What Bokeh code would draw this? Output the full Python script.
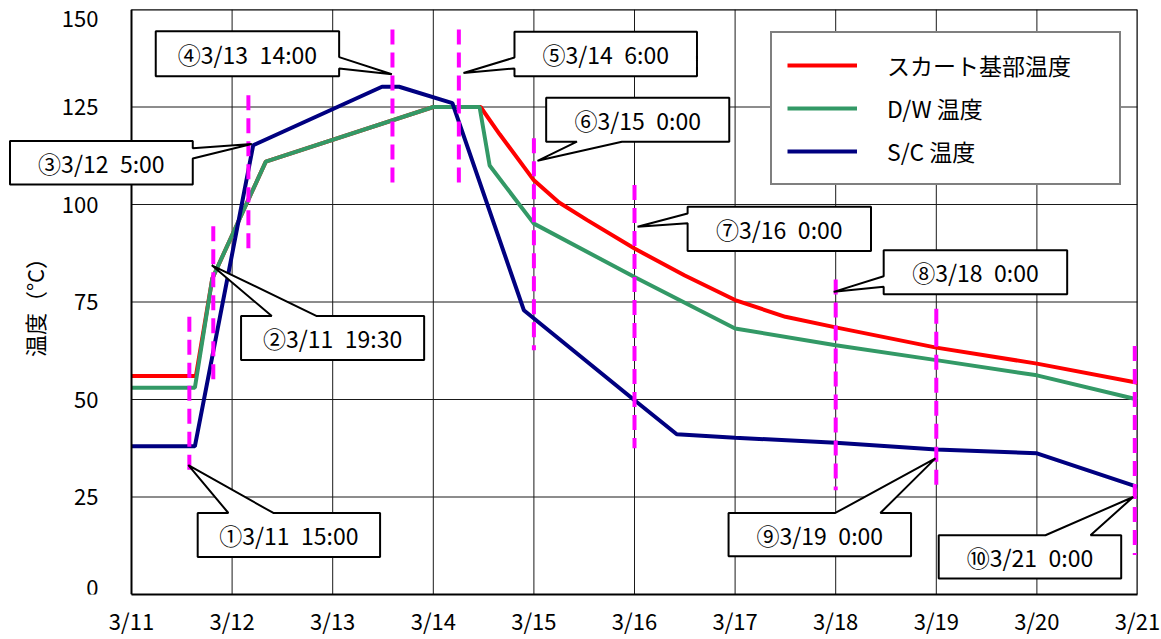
from bokeh.plotting import figure
from bokeh.models import FixedTicker, Legend, LegendItem, PolyAnnotation, Label
from bokeh.embed import file_html
from bokeh.resources import INLINE

FONT = "Noto Sans CJK JP"

# ---------------- data ----------------
x_ticks = [0, 1, 2, 3, 4, 5, 6, 7, 8, 9, 10]
x_tick_labels = ["3/11", "3/12", "3/13", "3/14", "3/15", "3/16", "3/17", "3/18", "3/19", "3/20", "3/21"]
y_ticks = [0, 25, 50, 75, 100, 125, 150]

series_names = ["スカート基部温度", "D/W 温度", "S/C 温度"]

# days since 3/11 0:00
skirt_day = [0, 0.64, 0.803, 1.335, 3.0, 3.47, 3.66, 4.0, 4.25, 4.53, 5.0, 5.5, 6.0, 6.5, 7.0, 8.0, 9.0, 10.0]
skirt_temp = [56, 56, 81, 111, 125, 125, 118, 106.2, 100.5, 96, 88.7, 81.8, 75.5, 71.2, 68.5, 63.3, 59.2, 54.3]

dw_day = [0, 0.63, 0.803, 1.335, 3.0, 3.46, 3.56, 4.0, 5.0, 6.0, 7.0, 8.0, 9.0, 10.0]
dw_temp = [53, 53, 81, 111, 125, 125, 110, 95.1, 81.4, 68.2, 63.9, 60.1, 56.2, 50]

sc_day = [0, 0.63, 1.21, 2.49, 2.66, 3.19, 3.9, 5.0, 5.42, 6.0, 7.0, 8.0, 9.0, 10.0]
sc_temp = [38, 38, 115.2, 130.2, 130.2, 126, 72.9, 49.8, 41.1, 40.2, 38.9, 37.2, 36.2, 27.6]

SP = "\u2002"
event_labels = ["①3/11" + SP + "15:00", "②3/11" + SP + "19:30", "③3/12" + SP + "5:00",
                "④3/13" + SP + "14:00", "⑤3/14" + SP + "6:00", "⑥3/15" + SP + "0:00",
                "⑦3/16" + SP + "0:00", "⑧3/18" + SP + "0:00", "⑨3/19" + SP + "0:00",
                "⑩3/21" + SP + "0:00"]
event_day = [0.575, 0.813, 1.162, 2.594, 3.254, 4.0, 5.0, 7.0, 8.0, 9.973]
marker_top = [71.2, 94.4, 128.0, 144.9, 144.9, 117.0, 105.0, 80.8, 73.3, 63.7]
marker_bottom = [31.9, 55.0, 88.3, 105.0, 105.0, 62.6, 37.5, 26.7, 26.7, 10.1]

# ---------------- callout layout (box x0, x1, top, bottom; tip; wedge side and base) ----------------
callout_layout = [
    dict(box=(0.658, 2.471, 20.9, 9.6), tip=(0.565, 33.2), side="top", base=(0.963, 1.410)),
    dict(box=(1.089, 2.909, 71.4, 60.1), tip=(0.798, 84.4), side="top", base=(1.394, 1.842)),
    dict(box=(-1.208, 0.609, 116.3, 105.1), tip=(1.195, 115.5), side="right", base=(114.4, 111.8)),
    dict(box=(0.241, 2.064, 144.4, 132.9), tip=(2.588, 133.4), side="right", base=(137.8, 134.9)),
    dict(box=(3.807, 5.621, 144.3, 132.9), tip=(3.300, 133.7), side="left", base=(137.7, 134.9)),
    dict(box=(4.122, 5.942, 127.4, 116.1), tip=(4.036, 111.2), side="bottom", base=(4.428, 4.875)),
    dict(box=(5.528, 7.351, 99.4, 88.1), tip=(5.030, 94.3), side="left", base=(97.7, 95.2)),
    dict(box=(7.477, 9.301, 88.3, 77.0), tip=(6.980, 77.6), side="left", base=(81.6, 78.9)),
    dict(box=(5.935, 7.749, 20.9, 9.8), tip=(7.991, 34.9), side="top", base=(6.996, 7.444)),
    dict(box=(8.024, 9.838, 15.2, 4.1), tip=(9.957, 25.0), side="top", base=(9.085, 9.533)),
]

# ---------------- layout constants (pixels) ----------------
W, H = 1161, 639
FRAME_LEFT = 5          # frame starts near the left edge so callout ③ is not clipped
AXIS_X = 131            # pixel of 3/11
AXIS_RIGHT = 1137       # pixel of 3/21
FRAME_TOP = 9
FRAME_BOTTOM = 594
px_per_day = (AXIS_RIGHT - AXIS_X) / (x_ticks[-1] - x_ticks[0])
x_start = x_ticks[0] - (AXIS_X - FRAME_LEFT) / px_per_day

p = figure(width=W, height=H, x_range=(x_start, x_ticks[-1]), y_range=(y_ticks[0], y_ticks[-1]),
           output_backend="svg", toolbar_location=None,
           min_border_left=FRAME_LEFT, min_border_right=W - AXIS_RIGHT,
           min_border_top=FRAME_TOP, min_border_bottom=H - FRAME_BOTTOM)
p.background_fill_color = "white"
p.border_fill_color = "white"
p.outline_line_color = None
p.xgrid.visible = False
p.ygrid.visible = False

# grid lines restricted to the plotting area
p.segment(x0=x_ticks, y0=[y_ticks[0]] * len(x_ticks), x1=x_ticks, y1=[y_ticks[-1]] * len(x_ticks),
          line_color="#1a1a1a", line_width=1)
p.segment(x0=[x_ticks[0]] * len(y_ticks), y0=y_ticks, x1=[x_ticks[-1]] * len(y_ticks), y1=y_ticks,
          line_color="#1a1a1a", line_width=1)
# plot-area border (top and right)
p.segment(x0=[x_ticks[0], x_ticks[-1]], y0=[y_ticks[-1], y_ticks[0]],
          x1=[x_ticks[-1], x_ticks[-1]], y1=[y_ticks[-1], y_ticks[-1]],
          line_color="black", line_width=2)

p.xaxis.ticker = FixedTicker(ticks=x_ticks)
p.xaxis.major_label_overrides = {t: lab for t, lab in zip(x_ticks, x_tick_labels)}
p.xaxis.bounds = (x_ticks[0], x_ticks[-1])
p.yaxis.ticker = FixedTicker(ticks=y_ticks)
p.yaxis.fixed_location = x_ticks[0]
p.yaxis.major_label_overrides = {y_ticks[-1]: "", y_ticks[0]: ""}

for ax in (p.xaxis, p.yaxis):
    ax.major_tick_out = 0
    ax.major_tick_in = 0
    ax.minor_tick_out = 0
    ax.minor_tick_in = 0
    ax.axis_line_color = "black"
    ax.axis_line_width = 2
    ax.major_label_text_font = FONT
    ax.major_label_text_font_size = "22px"
    ax.major_label_text_color = "black"
p.xaxis.major_label_standoff = 9
p.yaxis.major_label_standoff = 33
p.yaxis.axis_label = "温度（°C）"
p.yaxis.axis_label_text_font = FONT
p.yaxis.axis_label_text_font_size = "22px"
p.yaxis.axis_label_text_font_style = "normal"
p.yaxis.axis_label_text_color = "black"
p.yaxis.axis_label_standoff = 9

# end tick labels, nudged inside the plot area like the reference
for val, dy in ((y_ticks[-1], -9), (y_ticks[0], 7)):
    p.add_layout(Label(x=x_ticks[0], y=val, text=str(val), x_offset=-33, y_offset=dy,
                       text_align="right", text_baseline="middle",
                       text_font=FONT, text_font_size="22px", text_color="black"))

r_skirt = p.line(skirt_day, skirt_temp, line_color="#FF0000", line_width=4)
r_dw = p.line(dw_day, dw_temp, line_color="#339966", line_width=4)
r_sc = p.line(sc_day, sc_temp, line_color="#000080", line_width=4)

p.segment(x0=event_day, y0=marker_top, x1=event_day, y1=marker_bottom,
          line_color="#FF00FF", line_width=4, line_dash="15 8")

# callouts
for lay, text in zip(callout_layout, event_labels):
    x0, x1, top, bot = lay["box"]
    tx, ty = lay["tip"]
    a, b = lay["base"]
    side = lay["side"]
    if side == "top":
        pts = [(x0, top), (a, top), (tx, ty), (b, top), (x1, top), (x1, bot), (x0, bot)]
    elif side == "right":
        pts = [(x0, top), (x1, top), (x1, a), (tx, ty), (x1, b), (x1, bot), (x0, bot)]
    elif side == "bottom":
        pts = [(x0, top), (x1, top), (x1, bot), (b, bot), (tx, ty), (a, bot), (x0, bot)]
    else:
        pts = [(x0, top), (x1, top), (x1, bot), (x0, bot), (x0, b), (tx, ty), (x0, a)]
    p.add_layout(PolyAnnotation(xs=[q[0] for q in pts], ys=[q[1] for q in pts],
                                fill_color="white", fill_alpha=1.0,
                                line_color="black", line_alpha=1.0, line_width=2))
    p.add_layout(Label(x=(x0 + x1) / 2, y=(top + bot) / 2, text=text,
                       text_align="center", text_baseline="middle",
                       text_font=FONT, text_font_size="23px", text_color="black"))

legend = Legend(items=[LegendItem(label=series_names[0], renderers=[r_skirt]),
                       LegendItem(label=series_names[1], renderers=[r_dw]),
                       LegendItem(label=series_names[2], renderers=[r_sc])],
                location=(770 - FRAME_LEFT, FRAME_BOTTOM - 185))
legend.border_line_color = "black"
legend.border_line_width = 2
legend.background_fill_color = "white"
legend.background_fill_alpha = 1.0
legend.padding = 15
legend.spacing = 9
legend.margin = 0
legend.glyph_width = 70
legend.glyph_height = 20
legend.label_height = 26
legend.label_width = 217
legend.label_standoff = 30
legend.label_text_font = FONT
legend.label_text_font_size = "23px"
legend.label_text_color = "black"
p.add_layout(legend)

open("out.html", "w").write(file_html(p, INLINE))
